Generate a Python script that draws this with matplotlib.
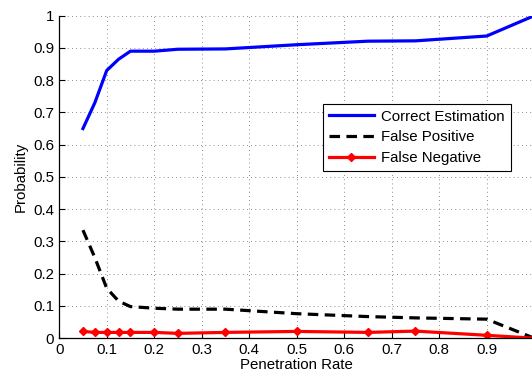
import matplotlib
matplotlib.use("Agg")
import matplotlib.pyplot as plt

plt.rcParams['font.family'] = ['Liberation Sans', 'DejaVu Sans']

rate = [0.05, 0.075, 0.1, 0.125, 0.15, 0.2, 0.25, 0.35, 0.5, 0.65, 0.75, 0.9, 1.0]
correct = [0.65, 0.73, 0.83, 0.865, 0.89, 0.89, 0.896, 0.897, 0.91, 0.921, 0.922, 0.937, 1.0]
false_pos = [0.335, 0.25, 0.155, 0.115, 0.098, 0.093, 0.09, 0.09, 0.076, 0.067, 0.063, 0.059, 0.0]
false_neg = [0.021, 0.018, 0.018, 0.018, 0.018, 0.018, 0.015, 0.018, 0.021, 0.018, 0.022, 0.009, 0.0]

xticks = [0, 0.1, 0.2, 0.3, 0.4, 0.5, 0.6, 0.7, 0.8, 0.9, 1.0]
xticklabels = ['0', '0.1', '0.2', '0.3', '0.4', '0.5', '0.6', '0.7', '0.8', '0.9', '']
yticks = [0, 0.1, 0.2, 0.3, 0.4, 0.5, 0.6, 0.7, 0.8, 0.9, 1.0]
yticklabels = ['0', '0.1', '0.2', '0.3', '0.4', '0.5', '0.6', '0.7', '0.8', '0.9', '1']

fig = plt.figure(figsize=(5.32, 3.78), dpi=100)
W, H = 532, 378
x0, x1 = 59.2, 534.2
ytop, ybot = 15.7, 338.2
ax = fig.add_axes([x0 / W, 1 - ybot / H, (x1 - x0) / W, (ybot - ytop) / H])

ax.plot(rate, correct, color='#0000ff', lw=2.3, label='Correct Estimation', solid_joinstyle='round')
ax.plot(rate, false_pos, color='black', lw=2.3, dashes=(3.3, 2.0), label='False Positive')
ax.plot(rate, false_neg, color='#ff0000', lw=2.3, marker='D', markersize=4.5,
        label='False Negative')

ax.set_xlim(0, 1)
ax.set_ylim(0, 1)
ax.set_xticks(xticks)
ax.set_xticklabels(xticklabels)
ax.set_yticks(yticks)
ax.set_yticklabels(yticklabels)
ax.tick_params(direction='in', labelsize=10.8, length=4, width=0.8, top=False, right=False)
ax.grid(True, color='black', linestyle=(0, (1, 4)), lw=0.6, alpha=0.6)
for s in ['top', 'right']:
    ax.spines[s].set_visible(False)
for s in ['left', 'bottom']:
    ax.spines[s].set_linewidth(0.9)

ax.set_xlabel('Penetration Rate', fontsize=10.8, labelpad=1)
ax.set_ylabel('Probability', fontsize=10.8, labelpad=4)

leg = ax.legend(loc='upper left', bbox_to_anchor=(0.555, 0.727), fontsize=10.8,
                frameon=True, fancybox=False, framealpha=1, edgecolor='black',
                handlelength=3.0, borderaxespad=0, borderpad=0.4, labelspacing=0.45,
                handletextpad=0.5)
leg.get_frame().set_linewidth(0.8)

fig.savefig('out.png', dpi=100)
